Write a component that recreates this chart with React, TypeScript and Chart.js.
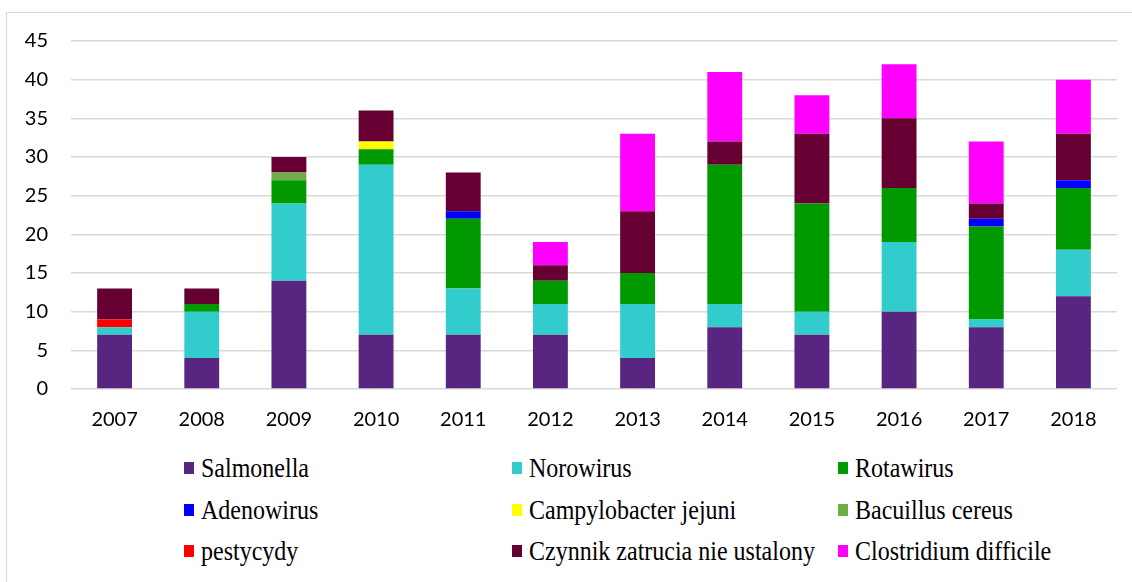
import React, { useEffect, useRef } from "react";
import { Chart, registerables } from "chart.js";

Chart.register(...registerables);

const years = ["2007", "2008", "2009", "2010", "2011", "2012", "2013", "2014", "2015", "2016", "2017", "2018"];
const salmonella = [7, 4, 14, 7, 7, 7, 4, 8, 7, 10, 8, 12];
const norowirus = [1, 6, 10, 22, 6, 4, 7, 3, 3, 9, 1, 6];
const rotawirus = [0, 1, 3, 2, 9, 3, 4, 18, 14, 7, 12, 8];
const adenowirus = [0, 0, 0, 0, 1, 0, 0, 0, 0, 0, 1, 1];
const campylobacter = [0, 0, 0, 1, 0, 0, 0, 0, 0, 0, 0, 0];
const bacillus = [0, 0, 1, 0, 0, 0, 0, 0, 0, 0, 0, 0];
const pestycydy = [1, 0, 0, 0, 0, 0, 0, 0, 0, 0, 0, 0];
const czynnik = [4, 2, 2, 4, 5, 2, 8, 3, 9, 9, 2, 6];
const clostridium = [0, 0, 0, 0, 0, 3, 10, 9, 5, 7, 8, 7];
const yTicks = [0, 5, 10, 15, 20, 25, 30, 35, 40, 45];

const seriesNames = [
  "Salmonella",
  "Norowirus",
  "Rotawirus",
  "Adenowirus",
  "Campylobacter jejuni",
  "Bacuillus cereus",
  "pestycydy",
  "Czynnik zatrucia nie ustalony",
  "Clostridium difficile",
];
const seriesData = [salmonella, norowirus, rotawirus, adenowirus, campylobacter, bacillus, pestycydy, czynnik, clostridium];
const seriesColors = ["#582680", "#33CCCC", "#009900", "#0000FF", "#FFFF00", "#70AD47", "#FF0000", "#660033", "#FF00FF"];

const legendOrder = [0, 1, 2, 3, 4, 5, 6, 7, 8];

export default function App() {
  const ref = useRef<HTMLCanvasElement | null>(null);

  useEffect(() => {
    if (!ref.current) return;
    const chart = new Chart(ref.current, {
      type: "bar",
      data: {
        labels: years,
        datasets: seriesNames.map((name, i) => ({
          label: name,
          data: seriesData[i],
          backgroundColor: seriesColors[i],
          borderWidth: 0,
          categoryPercentage: 1,
          barPercentage: 0.4,
        })),
      },
      options: {
        responsive: false,
        animation: false,
        maintainAspectRatio: false,
        layout: { padding: { left: 0, right: 15, top: 41, bottom: 0 } },
        plugins: { legend: { display: false }, tooltip: { enabled: false } },
        scales: {
          x: {
            stacked: true,
            grid: { display: false, drawTicks: false },
            border: { display: false },
            ticks: { color: "#000", font: { family: "Lato", size: 20 }, padding: 19 },
            afterFit: (s: any) => { s.height = 51; },
          },
          y: {
            stacked: true,
            min: 0,
            max: 45,
            afterBuildTicks: (s: any) => { s.ticks = yTicks.map((v) => ({ value: v })); },
            grid: { color: "#D9D9D9", lineWidth: 1.5, drawTicks: false },
            border: { display: false },
            ticks: { color: "#000", font: { family: "Lato", size: 20 }, padding: 23 },
            afterFit: (s: any) => { s.width = 71; },
          },
        },
      },
    });
    return () => chart.destroy();
  }, []);

  const colLeft = [184, 512, 838];
  const rowMid = [468, 510, 551];

  return (
    <div style={{ position: "fixed", left: 0, top: 0, width: 1132, height: 582, background: "#fff", overflow: "hidden" }}>
      <div style={{ position: "absolute", left: 6, top: 12, width: 1200, height: 700, borderLeft: "1.5px solid #D9D9D9", borderTop: "1.5px solid #D9D9D9" }} />
      <canvas ref={ref} width={1132} height={440} style={{ position: "absolute", left: 0, top: 0, width: 1132, height: 440 }} />
      {legendOrder.map((si, k) => {
        const r = Math.floor(k / 3);
        const c = k % 3;
        return (
          <div
            key={si}
            style={{
              position: "absolute",
              left: colLeft[c],
              top: rowMid[r] - 15,
              height: 30,
              display: "flex",
              alignItems: "center",
              whiteSpace: "nowrap",
            }}
          >
            <span style={{ display: "inline-block", width: 10, height: 12, background: seriesColors[si], marginRight: 7 }} />
            <span
              style={{
                display: "inline-block",
                fontFamily: "'Liberation Serif', 'Times New Roman', serif",
                fontSize: 24,
                lineHeight: "30px",
                color: "#000",
                transform: "scaleY(1.12)",
                transformOrigin: "50% 50%",
              }}
            >
              {seriesNames[si]}
            </span>
          </div>
        );
      })}
    </div>
  );
}
